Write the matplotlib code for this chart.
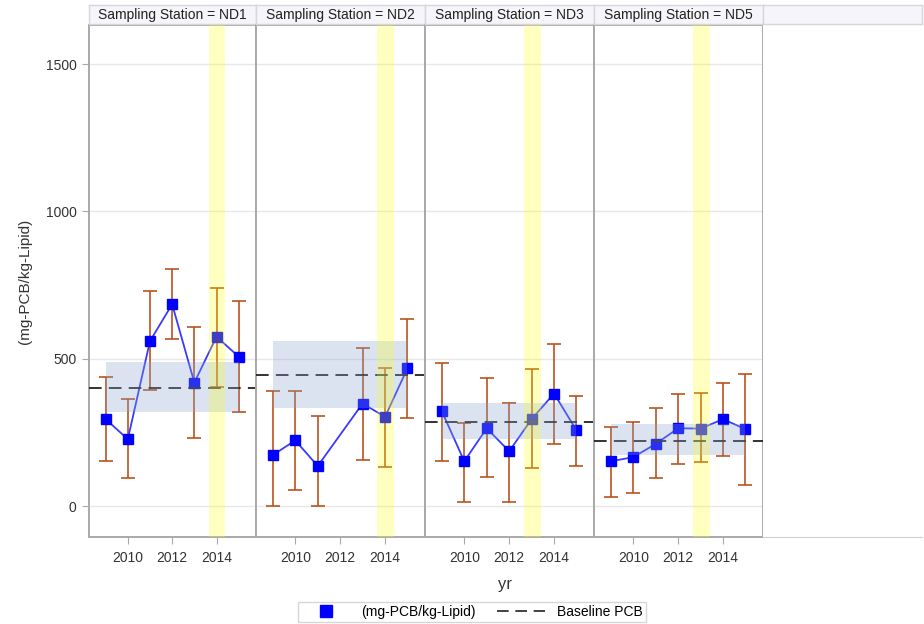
import matplotlib
matplotlib.use("Agg")
import matplotlib.pyplot as plt
from matplotlib.lines import Line2D
import numpy as np

plt.rcParams['font.family'] = ['Liberation Sans', 'DejaVu Sans']

stations = ["ND1", "ND2", "ND3", "ND5"]

years_nd1 = [2009, 2010, 2011, 2012, 2013, 2014, 2015]
pcb_nd1 = [295, 227, 560, 685, 419, 575, 507]
lo_nd1 = [154, 94, 393, 567, 230, 405, 321]
hi_nd1 = [439, 362, 729, 805, 608, 740, 695]

years_nd2 = [2009, 2010, 2011, 2013, 2014, 2015]
pcb_nd2 = [173, 223, 136, 348, 303, 468]
lo_nd2 = [0, 53, 0, 158, 132, 298]
hi_nd2 = [392, 392, 306, 536, 468, 634]

years_nd3 = [2009, 2010, 2011, 2012, 2013, 2014, 2015]
pcb_nd3 = [322, 152, 264, 186, 295, 382, 257]
lo_nd3 = [152, 15, 99, 15, 128, 212, 136]
hi_nd3 = [487, 283, 434, 351, 465, 551, 375]

years_nd5 = [2009, 2010, 2011, 2012, 2013, 2014, 2015]
pcb_nd5 = [152, 166, 211, 264, 263, 295, 261]
lo_nd5 = [31, 45, 95, 144, 149, 170, 71]
hi_nd5 = [269, 287, 332, 381, 385, 419, 450]

baseline = [401, 445, 287, 222]
base_lo = [319, 334, 228, 172]
base_hi = [488, 561, 349, 278]
highlight_year = [2014, 2014, 2013, 2013]

data = [
    (years_nd1, pcb_nd1, lo_nd1, hi_nd1),
    (years_nd2, pcb_nd2, lo_nd2, hi_nd2),
    (years_nd3, pcb_nd3, lo_nd3, hi_nd3),
    (years_nd5, pcb_nd5, lo_nd5, hi_nd5),
]

xticks = [2010, 2012, 2014]
yticks = [0, 500, 1000, 1500]

W, H = 924, 624
fig = plt.figure(figsize=(W / 100, H / 100), dpi=100)

edges = [89, 256, 425, 594, 763, 922]
ax_top, ax_bot = 25, 537
hdr_top, hdr_bot = 5, 24
spine_col = '#a9a9a9'
err_col = '#B9531F'

def fx(px):
    return px / W

def fy(py):
    return 1 - py / H

axes = []
for i in range(5):
    x0, x1 = edges[i], edges[i + 1]
    ax = fig.add_axes([fx(x0), fy(ax_bot), fx(x1 - x0), (ax_bot - ax_top) / H])
    axes.append(ax)
    hax = fig.add_axes([fx(x0), fy(hdr_bot), fx(x1 - x0), (hdr_bot - hdr_top) / H])
    hax.set_facecolor('#f5f5fa')
    hax.set_xticks([]); hax.set_yticks([])
    for s in hax.spines.values():
        s.set_color('#d6d6dc'); s.set_linewidth(1.0)
    if i < 4:
        hax.text(0.5, 0.45, f"Sampling Station = {stations[i]}", ha='center', va='center',
                 fontsize=10, color='#222222', transform=hax.transAxes)

for i, ax in enumerate(axes):
    ax.set_ylim(-105, 1633)
    ax.set_xlim(2008.25, 2015.78)
    if i == 4:
        for k in ['left', 'right', 'top']:
            ax.spines[k].set_visible(False)
        ax.spines['bottom'].set_color('#d0d0d0')
        ax.set_xticks([]); ax.set_yticks([])
        continue
    yrs, v, lo, hi = data[i]
    yrs = np.array(yrs); v = np.array(v); lo = np.array(lo); hi = np.array(hi)
    for yv in yticks:
        ax.axhline(yv, color='#e8e8e8', lw=1.0, zorder=0)
    ax.errorbar(yrs, v, yerr=[v - lo, hi - v], fmt='none', ecolor=err_col,
                elinewidth=1.2, capsize=5, capthick=1.2, zorder=2)
    ax.plot(yrs, v, color='#3a3aff', lw=1.3, zorder=3)
    ax.plot(yrs, v, 's', color='#0000ff', ms=6.5, zorder=4)
    ax.axhline(baseline[i], color='#222222', lw=1.3, dashes=(7, 4), zorder=5)
    ax.fill_between([yrs.min(), yrs.max()], base_lo[i], base_hi[i],
                    color='#87a5cd', alpha=0.3, lw=0, zorder=6)
    ax.axvspan(highlight_year[i] - 0.35, highlight_year[i] + 0.4, color='#ffff00',
               alpha=0.25, lw=0, zorder=7)
    ax.set_xticks(xticks)
    ax.set_xticklabels([str(t) for t in xticks], fontsize=10, color='#333333')
    ax.set_yticks(yticks)
    if i == 0:
        ax.set_yticklabels([str(t) for t in yticks], fontsize=10, color='#333333')
        ax.tick_params(axis='y', length=5, color=spine_col, pad=4)
        ax.set_ylabel("(mg-PCB/kg-Lipid)", fontsize=11, color='#333333', labelpad=10)
    else:
        ax.tick_params(axis='y', length=0, labelleft=False)
    ax.tick_params(axis='x', length=5, color=spine_col, pad=5)
    for s in ax.spines.values():
        s.set_color(spine_col); s.set_linewidth(1.4)

fig.text((89 + 922) / 2 / W, fy(585), "yr", ha='center', va='center', fontsize=12, color='#333333')

handles = [
    Line2D([], [], marker='s', color='#0000ff', ls='none', ms=9),
    Line2D([], [], color='#222222', lw=1.2, dashes=(7, 4)),
]
leg = fig.legend(handles, ["(mg-PCB/kg-Lipid)", "Baseline PCB"], loc='center',
                 bbox_to_anchor=(472 / W, fy(612)), ncol=2, fontsize=10, frameon=True,
                 fancybox=False, edgecolor='#cccccc', handlelength=3.5, columnspacing=1.5,
                 borderpad=0.25, handletextpad=0.8)
leg.get_frame().set_linewidth(1.0)

fig.savefig("out.png", dpi=100)
